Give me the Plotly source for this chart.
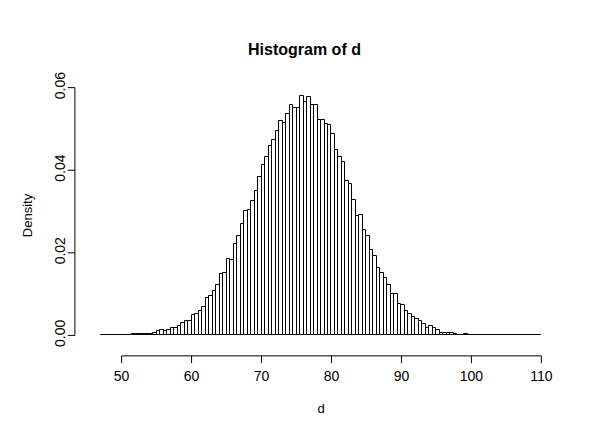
import plotly.graph_objects as go

# histogram of d, bins of width 0.5 starting at 47
bin_start = 47.0
bin_width = 0.5
density = (
    [0.0] * 9
    + [0.0003] * 5
    + [0.0004, 0.0005, 0.0010, 0.0012, 0.0010, 0.0012, 0.0017, 0.0017, 0.0022, 0.0029,
       0.0036, 0.0034, 0.0049, 0.0053, 0.0058, 0.0068, 0.0090, 0.0095, 0.0107, 0.0121,
       0.0148, 0.0151, 0.0185, 0.0182, 0.0221, 0.0240, 0.0270, 0.0301, 0.0304, 0.0326,
       0.0350, 0.0384, 0.0413, 0.0432, 0.0459, 0.0474, 0.0496, 0.0520, 0.0515, 0.0537,
       0.0559, 0.0551, 0.0551, 0.0581, 0.0566, 0.0578, 0.0559, 0.0559, 0.0522, 0.0522,
       0.0513, 0.0510, 0.0488, 0.0450, 0.0432, 0.0420, 0.0374, 0.0367, 0.0328, 0.0289,
       0.0291, 0.0255, 0.0240, 0.0206, 0.0192, 0.0163, 0.0151, 0.0140, 0.0121, 0.0100,
       0.0100, 0.0075, 0.0073, 0.0060, 0.0053, 0.0044, 0.0039, 0.0034, 0.0027, 0.0019,
       0.0022, 0.0017, 0.0012, 0.0007, 0.0007, 0.0007, 0.0005, 0.0003, 0.0002, 0.0002,
       0.0003]
)
density += [0.0] * (126 - len(density))
centers = [bin_start + bin_width * (i + 0.5) for i in range(len(density))]

x_ticks = [50, 60, 70, 80, 90, 100, 110]
y_ticks = [0.0, 0.02, 0.04, 0.06]
y_tick_labels = ["0.00", "0.02", "0.04", "0.06"]

fig = go.Figure(
    go.Bar(
        x=centers,
        y=density,
        width=bin_width,
        marker=dict(color="white", line=dict(color="black", width=1)),
        showlegend=False,
    )
)

shapes = [
    # x axis line (R style, offset below plot)
    dict(type="line", xref="x", yref="paper", x0=x_ticks[0], x1=x_ticks[-1],
         y0=-0.042, y1=-0.042, line=dict(color="black", width=1)),
    # y axis line
    dict(type="line", xref="paper", yref="y", x0=-0.017, x1=-0.017,
         y0=y_ticks[0], y1=y_ticks[-1], line=dict(color="black", width=1)),
]
for t in x_ticks:
    shapes.append(dict(type="line", xref="x", yref="paper", x0=t, x1=t,
                       y0=-0.042, y1=-0.07, line=dict(color="black", width=1)))
for t in y_ticks:
    shapes.append(dict(type="line", xref="paper", yref="y", x0=-0.017, x1=-0.032,
                       y0=t, y1=t, line=dict(color="black", width=1)))

fig.update_layout(
    width=593,
    height=435,
    margin=dict(l=75, r=42, t=78, b=98, autoexpand=False),
    paper_bgcolor="white",
    plot_bgcolor="white",
    font=dict(family="Liberation Sans, Arial", size=14, color="black"),
    bargap=0,
    shapes=shapes,
    title=dict(text="<b>Histogram of d</b>", x=0.5, xanchor="center",
               y=0.905, yanchor="middle", font=dict(size=16)),
    xaxis=dict(range=[44.48, 112.52], tickvals=x_ticks, ticks="",
               showgrid=False, zeroline=False, showline=False, automargin=False,
               ticklabelstandoff=21,
               title=dict(text="d", standoff=20, font=dict(size=13))),
    yaxis=dict(range=[-0.00232, 0.0604], tickvals=y_ticks, ticktext=y_tick_labels,
               tickangle=-90, ticks="", showgrid=False, zeroline=False,
               showline=False, automargin=False, ticklabelstandoff=14,
               title=dict(text="Density", standoff=16, font=dict(size=13))),
)

fig.write_html("out.html")
